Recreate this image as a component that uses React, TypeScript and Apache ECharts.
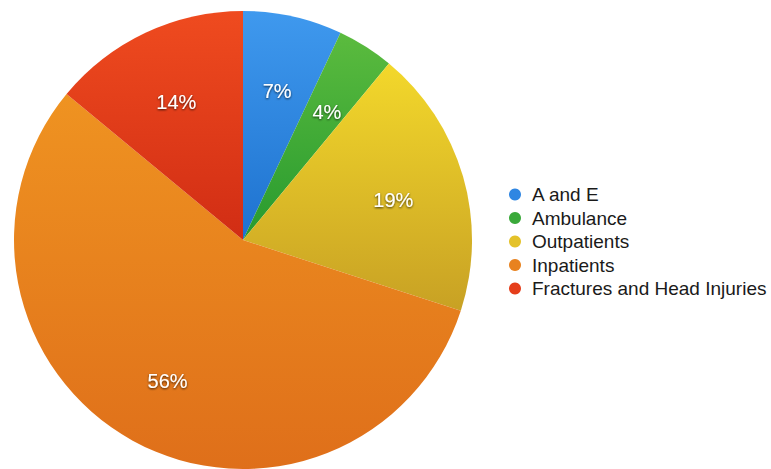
import React, { useEffect, useRef } from "react";
import * as echarts from "echarts";

const categories = ["A and E", "Ambulance", "Outpatients", "Inpatients", "Fractures and Head Injuries"];
const values = [7, 4, 19, 56, 14];
const topColors = ["#3f99ee", "#5bbb3e", "#f3d82b", "#ef9321", "#ef4b1f"];
const bottomColors = ["#1e72cf", "#279a2f", "#c8a124", "#df6f1a", "#d12d14"];
const legendColors = ["#2f86e2", "#3aa93a", "#e4c22a", "#e8821f", "#e53e1b"];

export default function App() {
  const ref = useRef<HTMLDivElement>(null);
  useEffect(() => {
    const chart = echarts.init(ref.current!, null, { renderer: "svg" });
    const data = categories.map((name, i) => ({
      name,
      value: values[i],
      itemStyle: {
        color: new echarts.graphic.LinearGradient(0, 0, 0, 1, [
          { offset: 0, color: topColors[i] },
          { offset: 1, color: bottomColors[i] },
        ]),
      },
    }));
    const labelData = categories.map((name, i) => ({ name, value: values[i] }));
    chart.setOption({
      animation: false,
      legend: {
        orient: "vertical",
        left: 504,
        top: 180,
        icon: "circle",
        itemWidth: 12,
        itemHeight: 12,
        itemGap: 4.5,
        textStyle: {
          fontFamily: "Liberation Sans, Arial, sans-serif",
          fontSize: 19,
          lineHeight: 19,
          color: "#1a1a1a",
          padding: [0, 0, 0, 6],
        },
        data: categories.map((name, i) => ({ name, itemStyle: { color: legendColors[i] } })),
      },
      series: [
        {
          type: "pie",
          center: [243, 240],
          radius: [0, 229],
          startAngle: 90,
          clockwise: true,
          silent: true,
          label: { show: false },
          labelLine: { show: false },
          itemStyle: { borderWidth: 0 },
          data,
        },
        {
          type: "pie",
          center: [243, 240],
          radius: [78, 229],
          startAngle: 90,
          clockwise: true,
          silent: true,
          legendHoverLink: false,
          itemStyle: { color: "rgba(0,0,0,0)", borderWidth: 0 },
          label: {
            show: true,
            position: "inside",
            formatter: "{c}%",
            color: "#ffffff",
            fontSize: 20,
            fontFamily: "Liberation Sans, Arial, sans-serif",
            offset: [0, 4],
            textShadowColor: "rgba(0,0,0,0.75)",
            textShadowBlur: 2,
            textShadowOffsetY: 1,
          },
          labelLine: { show: false },
          data: labelData.map((d) => ({ ...d, itemStyle: { color: "rgba(0,0,0,0)" } })),
        },
      ],
    });
    return () => chart.dispose();
  }, []);
  return (
    <div
      ref={ref}
      style={{ position: "fixed", left: 0, top: 0, width: 771, height: 469, background: "#ffffff" }}
    />
  );
}
